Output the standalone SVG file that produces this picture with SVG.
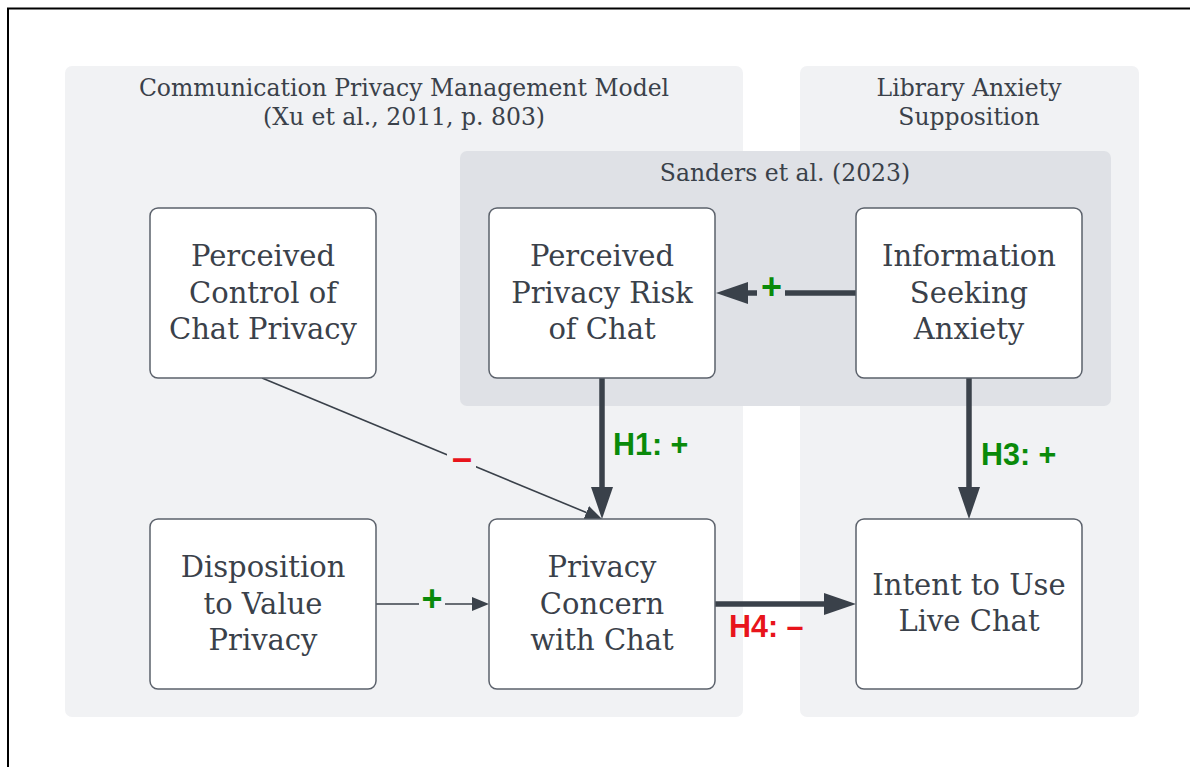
<svg xmlns="http://www.w3.org/2000/svg" width="1190" height="767" viewBox="0 0 1190 767">
  <style>
    .frame { fill: none; stroke: #000; stroke-width: 2; }
    .group-outer { fill: #f1f2f4; }
    .group-inner { fill: #dfe1e6; }
    .node rect { fill: #fff; stroke: #5b616b; stroke-width: 1.5; }
    .node text, .title { font-family: "DejaVu Serif", "Liberation Serif", serif; fill: #3a414a; text-anchor: middle; }
    .node text { font-size: 29px; }
    .title { font-size: 23.5px; }
    .thin { stroke: #3a414a; stroke-width: 1.6; fill: none; }
    .thick { stroke: #3a414a; stroke-width: 5.5; fill: none; }
    .lbl { font-family: "Liberation Sans", Arial, sans-serif; font-weight: bold; }
    .pos { fill: #0a8a0a; }
    .neg { fill: #e8141b; }
    .sign { font-size: 36px; text-anchor: middle; }
    .hyp { font-size: 30.5px; }
  </style>
  <defs>
    <marker id="headThick" markerUnits="userSpaceOnUse" markerWidth="34" markerHeight="22" refX="0" refY="11" orient="auto">
      <path d="M0,0 L32,11 L0,22 Z" fill="#3a414a"/>
    </marker>
    <marker id="headThin" markerUnits="userSpaceOnUse" markerWidth="18" markerHeight="14" refX="0" refY="7" orient="auto">
      <path d="M0,0 L17,7 L0,14 Z" fill="#3a414a"/>
    </marker>
  </defs>

  <rect width="1190" height="767" fill="#fff"/>
  <rect class="frame" x="8" y="8.5" width="1250" height="800"/>

  <!-- group containers -->
  <g id="group-cpm">
    <rect class="group-outer" x="65" y="66" width="678" height="651" rx="7"/>
    <text class="title" x="404" y="96">Communication Privacy Management Model</text>
    <text class="title" x="404" y="125">(Xu et al., 2011, p. 803)</text>
  </g>
  <g id="group-library">
    <rect class="group-outer" x="800" y="66" width="339" height="651" rx="7"/>
    <text class="title" x="969" y="96">Library Anxiety</text>
    <text class="title" x="969" y="125">Supposition</text>
  </g>
  <g id="group-sanders">
    <rect class="group-inner" x="460" y="151" width="651" height="255" rx="7"/>
    <text class="title" x="785" y="181">Sanders et al. (2023)</text>
  </g>

  <!-- connectors -->
  <g id="connectors">
    <!-- Perceived Control -> Privacy Concern -->
    <line class="thin" x1="262" y1="378" x2="586.3" y2="512.5" marker-end="url(#headThin)"/>
    <rect x="447" y="447" width="29" height="22" fill="#f1f2f4"/>
    <text class="lbl neg sign" x="462" y="470">–</text>

    <!-- Perceived Privacy Risk -> Privacy Concern (H1) -->
    <line class="thick" x1="602" y1="378" x2="602" y2="487" marker-end="url(#headThick)"/>
    <text class="lbl pos hyp" x="613" y="455">H1: +</text>

    <!-- Information Seeking Anxiety -> Perceived Privacy Risk -->
    <line class="thick" x1="856" y1="293" x2="748" y2="293" marker-end="url(#headThick)"/>
    <rect x="757" y="276" width="28" height="26" fill="#dfe1e6"/>
    <text class="lbl pos sign" x="771.5" y="299">+</text>

    <!-- Information Seeking Anxiety -> Intent to Use Live Chat (H3) -->
    <line class="thick" x1="969" y1="378" x2="969" y2="487" marker-end="url(#headThick)"/>
    <text class="lbl pos hyp" x="981" y="465">H3: +</text>

    <!-- Disposition to Value Privacy -> Privacy Concern -->
    <line class="thin" x1="376" y1="604" x2="472" y2="604" marker-end="url(#headThin)"/>
    <rect x="419" y="588" width="26" height="24" fill="#f1f2f4"/>
    <text class="lbl pos sign" x="432" y="611">+</text>

    <!-- Privacy Concern -> Intent to Use Live Chat (H4) -->
    <line class="thick" x1="715" y1="604" x2="824" y2="604" marker-end="url(#headThick)"/>
    <text class="lbl neg hyp" x="729" y="637">H4: –</text>
  </g>

  <!-- nodes -->
  <g id="node-control" class="node">
    <rect x="150" y="208" width="226" height="170" rx="8"/>
    <text x="263" y="266">Perceived</text>
    <text x="263" y="303">Control of</text>
    <text x="263" y="339">Chat Privacy</text>
  </g>
  <g id="node-risk" class="node">
    <rect x="489" y="208" width="226" height="170" rx="8"/>
    <text x="602" y="266">Perceived</text>
    <text x="602" y="303">Privacy Risk</text>
    <text x="602" y="339">of Chat</text>
  </g>
  <g id="node-anxiety" class="node">
    <rect x="856" y="208" width="226" height="170" rx="8"/>
    <text x="969" y="266">Information</text>
    <text x="969" y="303">Seeking</text>
    <text x="969" y="339">Anxiety</text>
  </g>
  <g id="node-disposition" class="node">
    <rect x="150" y="519" width="226" height="170" rx="8"/>
    <text x="263" y="577">Disposition</text>
    <text x="263" y="614">to Value</text>
    <text x="263" y="650">Privacy</text>
  </g>
  <g id="node-concern" class="node">
    <rect x="489" y="519" width="226" height="170" rx="8"/>
    <text x="602" y="577">Privacy</text>
    <text x="602" y="614">Concern</text>
    <text x="602" y="650">with Chat</text>
  </g>
  <g id="node-intent" class="node">
    <rect x="856" y="519" width="226" height="170" rx="8"/>
    <text x="969" y="595">Intent to Use</text>
    <text x="969" y="631">Live Chat</text>
  </g>
</svg>
